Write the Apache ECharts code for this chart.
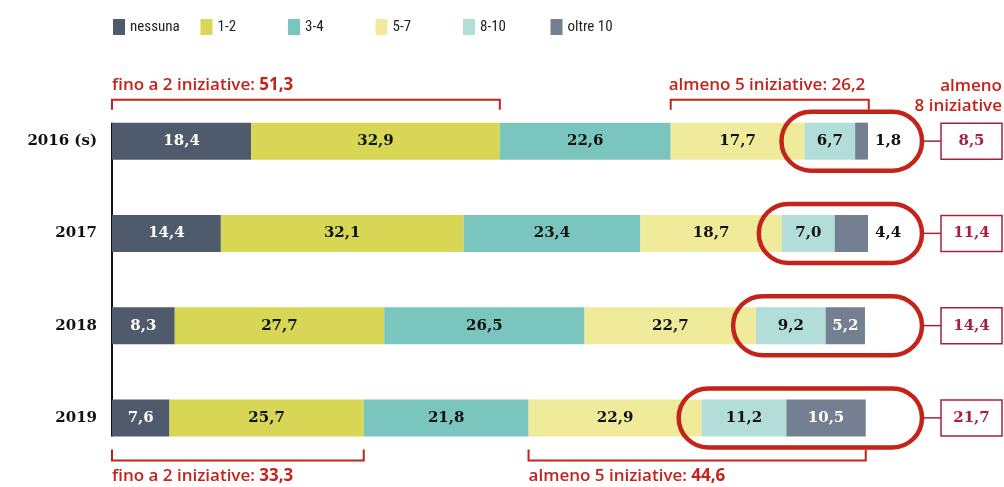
<!DOCTYPE html>
<html>
<head>
<meta charset="utf-8">
<script src="https://cdn.jsdelivr.net/npm/echarts@6/dist/echarts.min.js"></script>
<style>
    html, body { margin: 0; padding: 0; background: #fff; }
    #chart { width: 1004px; height: 487px; }
</style>
</head>
<body>
<div id="chart"></div>
<script>
    // dati (quote %)
    var anni = ['2016 (s)', '2017', '2018', '2019'];
    var nomiSerie = ['nessuna', '1-2', '3-4', '5-7', '8-10', 'oltre 10'];
    var nessuna = [18.4, 14.4, 8.3, 7.6];
    var da1a2 = [32.9, 32.1, 27.7, 25.7];
    var da3a4 = [22.6, 23.4, 26.5, 21.8];
    var da5a7 = [17.7, 18.7, 22.7, 22.9];
    var da8a10 = [6.7, 7.0, 9.2, 11.2];
    var oltre10 = [1.8, 4.4, 5.2, 10.5];
    var almeno8 = [8.5, 11.4, 14.4, 21.7];
    var finoA2 = [51.3, 33.3];     // 2016, 2019
    var almeno5 = [26.2, 44.6];    // 2016, 2019

    var colori = ['#4f5a6c', '#d7d755', '#7ac6bf', '#f0eb9a', '#b3ddd8', '#748091'];
    var coloreEtichetta = ['#fff', '#111', '#111', '#111', '#111', '#fff'];
    var rosso = '#c4231a';
    var bordeaux = '#a8203d';
    var fontNum = 'DejaVu Serif';
    var fontLegenda = '"Liberation Sans Narrow", "Roboto Condensed", Roboto, sans-serif';
    var fontTesto = '"Open Sans", Roboto, sans-serif';

    var valori = [nessuna, da1a2, da3a4, da5a7, da8a10, oltre10];

    function virgola(v) {
        return v.toFixed(1).replace('.', ',');
    }

    var series = [];
    var legende = [];
    for (var s = 0; s < valori.length; s++) {
        var dati = [];
        for (var i = 0; i < valori[s].length; i++) {
            var d = { value: valori[s][i] };
            // le barre piu' corte di "oltre 10" hanno l'etichetta fuori
            if (s == 5 && valori[s][i] < 5) {
                d.label = { position: 'right', distance: 7, color: '#111' };
            }
            dati.push(d);
        }
        series.push({
            name: nomiSerie[s],
            type: 'bar',
            stack: 'tot',
            barWidth: 37,
            itemStyle: { color: colori[s] },
            emphasis: { disabled: true },
            label: {
                show: true,
                position: 'inside',
                color: coloreEtichetta[s],
                fontFamily: fontNum,
                fontWeight: 'bold',
                fontSize: 15,
                formatter: function (p) { return virgola(p.value); }
            },
            data: dati
        });
        // una legenda per voce, a passo costante
        legende.push({
            left: 108 + s * 87.5,
            top: 14,
            itemWidth: 12,
            itemHeight: 16,
            icon: 'rect',
            selectedMode: false,
            data: [nomiSerie[s]],
            textStyle: { fontFamily: fontLegenda, fontSize: 15, color: '#222' }
        });
    }

    var chart = echarts.init(document.getElementById('chart'));
    chart.setOption({
        animation: false,
        grid: { left: 112, right: 136, top: 95, height: 369 },
        legend: legende,
        xAxis: { type: 'value', min: 0, max: 100, show: false },
        yAxis: {
            type: 'category',
            inverse: true,
            data: anni,
            axisLine: { show: false },
            axisTick: { show: false },
            axisLabel: {
                margin: 15,
                color: '#111',
                fontFamily: fontNum,
                fontWeight: 'bold',
                fontSize: 15
            }
        },
        series: series
    });

    // annotazioni rosse costruite dalla scala del grafico
    function px(x, cat) {
        return chart.convertToPixel({ gridIndex: 0 }, [x, cat]);
    }
    function cumulata(cat, n) {
        var t = 0;
        for (var k = 0; k < n; k++) t += valori[k][cat];
        return t;
    }

    var g = [];
    var mezza = 18.5;
    var xFine = px(100, 0)[0];

    // asse verticale
    g.push({
        type: 'line',
        shape: { x1: px(0, 0)[0], y1: px(0, 0)[1] - mezza, x2: px(0, 3)[0], y2: px(0, 3)[1] + mezza },
        style: { stroke: '#111', lineWidth: 2 }
    });

    function parentesi(x1, x2, yLinea, yPunte) {
        g.push({
            type: 'polyline',
            shape: { points: [[x1, yPunte], [x1, yLinea], [x2, yLinea], [x2, yPunte]] },
            style: { stroke: rosso, lineWidth: 2, fill: null }
        });
    }
    function testoRosso(x, y, parte, numero, grassetto) {
        g.push({
            type: 'text',
            x: x, y: y,
            style: {
                text: '{a|' + parte + '}{b|' + numero + '}',
                verticalAlign: 'middle',
                rich: {
                    a: { fontFamily: fontTesto, fontSize: 17, fontWeight: 600, fill: rosso },
                    b: { fontFamily: fontTesto, fontSize: 17, fontWeight: grassetto ? 'bold' : 600, fill: rosso }
                }
            }
        });
    }

    // sopra il 2016
    var yTop = px(0, 0)[1] - mezza;
    parentesi(px(0, 0)[0], px(cumulata(0, 2), 0)[0], yTop - 23, yTop - 13);
    testoRosso(px(0, 0)[0], yTop - 37, 'fino a 2 iniziative: ', virgola(finoA2[0]), true);
    parentesi(px(cumulata(0, 3), 0)[0], px(cumulata(0, 6), 0)[0], yTop - 23, yTop - 13);
    testoRosso(px(cumulata(0, 3), 0)[0] - 2, yTop - 37, 'almeno 5 iniziative: ', virgola(almeno5[0]), false);

    // sotto il 2019
    var yBot = px(0, 3)[1] + mezza;
    parentesi(px(0, 3)[0], px(cumulata(3, 2), 3)[0], yBot + 24, yBot + 13);
    testoRosso(px(0, 3)[0], yBot + 40, 'fino a 2 iniziative: ', virgola(finoA2[1]), true);
    parentesi(px(cumulata(3, 3), 3)[0], px(cumulata(3, 6), 3)[0], yBot + 24, yBot + 13);
    testoRosso(px(cumulata(3, 3), 3)[0], yBot + 40, 'almeno 5 iniziative: ', virgola(almeno5[1]), true);

    // titolo della colonna a destra
    g.push({
        type: 'text',
        x: 1002, y: yTop - 26,
        style: {
            text: 'almeno\n8 iniziative',
            align: 'right',
            verticalAlign: 'middle',
            lineHeight: 20,
            fontFamily: fontTesto, fontSize: 17, fontWeight: 600,
            fill: rosso
        }
    });

    // ovali intorno a 8-10 e oltre 10, con il riquadro del totale
    for (var c = 0; c < anni.length; c++) {
        var yc = px(0, c)[1];
        var xs = px(cumulata(c, 4), c)[0] - 23;
        var xe = xFine + 54;
        g.push({
            type: 'rect',
            shape: { x: xs, y: yc - 29.5, width: xe - xs, height: 59, r: 29.5 },
            style: { stroke: rosso, lineWidth: 4.5, fill: null },
            z: 10
        });
        g.push({
            type: 'line',
            shape: { x1: xe + 2, y1: yc, x2: 941, y2: yc },
            style: { stroke: bordeaux, lineWidth: 1.5 }
        });
        g.push({
            type: 'rect',
            shape: { x: 941, y: yc - 18, width: 61, height: 36 },
            style: { stroke: bordeaux, lineWidth: 1.5, fill: '#fff' }
        });
        g.push({
            type: 'text',
            x: 971.5, y: yc,
            style: {
                text: virgola(almeno8[c]),
                align: 'center',
                verticalAlign: 'middle',
                fontFamily: fontNum, fontWeight: 'bold', fontSize: 15,
                fill: bordeaux
            }
        });
    }

    chart.setOption({ graphic: g });
</script>
</body>
</html>
